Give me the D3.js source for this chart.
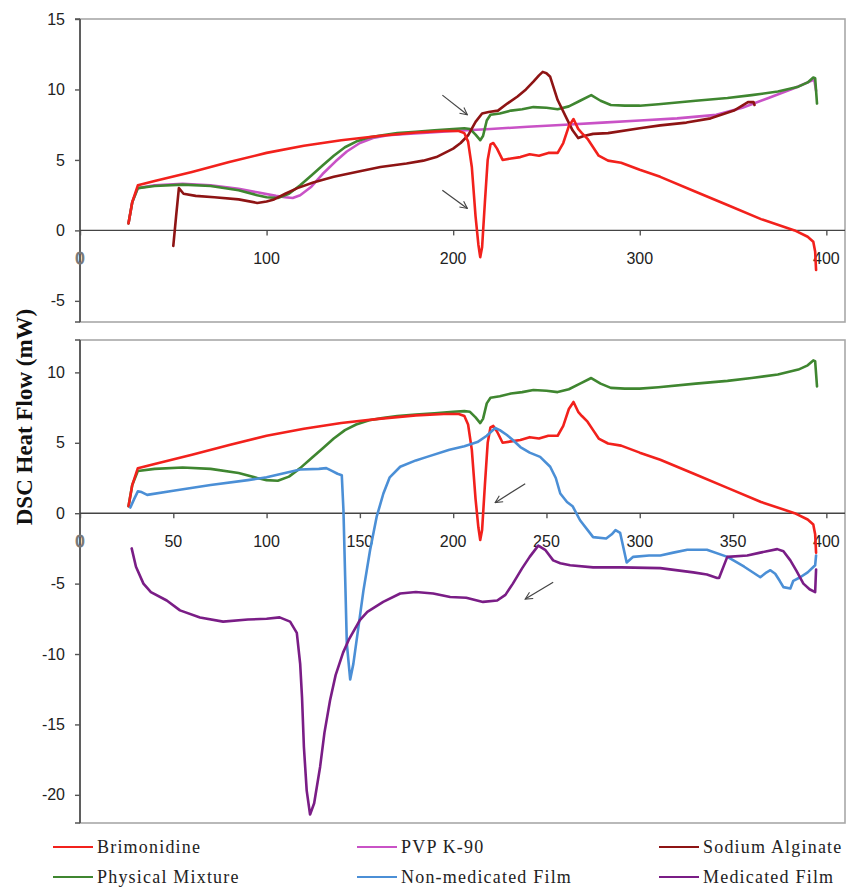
<!DOCTYPE html>
<html>
<head>
<meta charset="utf-8">
<script src="https://cdn.jsdelivr.net/npm/d3@7/dist/d3.min.js"></script>
<style>
  html, body { margin: 0; padding: 0; background: #fff; }
  svg { display: block; }
</style>
</head>
<body>
<svg id="chart" width="850" height="887"></svg>
<script>
// DSC thermograms: temperature (°C) vs heat flow (mW), as [T, HF] pairs.
const brimonidine = [[26,0.5],[28,2.0],[31,3.2],[40,3.5],[60,4.15],[80,4.85],[100,5.5],[120,6.0],[140,6.4],[160,6.7],[180,6.95],[195,7.05],[203,7.05],[206,6.9],[208,6.3],[210,4.5],[212,1.0],[213.5,-1.0],[214.5,-1.9],[215.5,-1.2],[217,2.0],[218.5,5.0],[220,6.1],[221.5,6.2],[223.5,5.8],[226.5,5.0],[231,5.1],[236,5.2],[241,5.4],[246,5.3],[251,5.5],[256,5.5],[259,6.2],[262,7.4],[264.5,7.9],[267,7.2],[269,6.9],[272,6.5],[275,5.9],[278,5.3],[283,4.95],[290,4.8],[300,4.3],[311,3.8],[329,2.8],[347,1.8],[365,0.8],[383,0.0],[390,-0.45],[393,-0.8],[394,-1.5],[394.5,-2.8]];

const pvpK90 = [[26,0.5],[28,2.0],[31,3.0],[40,3.2],[55,3.3],[70,3.2],[85,2.95],[95,2.7],[105,2.45],[110,2.35],[114,2.3],[118,2.5],[124,3.1],[130,4.0],[137,4.9],[143,5.6],[150,6.2],[157,6.55],[165,6.75],[175,6.85],[188,6.95],[200,7.05],[220,7.2],[240,7.35],[260,7.5],[280,7.65],[300,7.8],[320,7.95],[341,8.2],[355,8.7],[369,9.4],[383,10.1],[393.5,10.7],[394.5,9.9]];

const sodiumAlginate = [[50,-1.1],[51.5,1.0],[53,3.0],[55.5,2.6],[62,2.45],[72,2.35],[85,2.2],[95,1.95],[100,2.05],[104,2.2],[110,2.6],[116.5,3.0],[125,3.4],[136,3.8],[150,4.2],[161,4.5],[175,4.75],[184,4.95],[191,5.2],[200,5.8],[204,6.2],[208,6.75],[212,7.7],[215.5,8.3],[219,8.4],[224,8.5],[229,9.0],[234.5,9.5],[239,10.0],[243,10.55],[246,11.0],[248,11.25],[250,11.15],[252,10.9],[256,9.25],[261,7.9],[264,7.1],[267,6.55],[270,6.7],[275,6.85],[283,6.9],[300,7.25],[311,7.45],[325,7.65],[338,7.95],[350.5,8.5],[358,9.1],[361,9.1],[361.5,8.9]];

const physicalMixture = [[26,0.5],[28,2.0],[31,3.0],[40,3.15],[55,3.25],[70,3.15],[85,2.85],[95,2.5],[100,2.35],[106,2.3],[112,2.6],[118,3.2],[124,3.9],[130,4.6],[136,5.3],[142,5.9],[148,6.3],[155,6.6],[162,6.75],[170,6.9],[180,7.0],[190,7.1],[200,7.2],[206,7.25],[209,7.2],[212,6.8],[214.5,6.4],[216,6.7],[218,7.8],[220,8.2],[225,8.3],[231,8.5],[237,8.6],[243,8.75],[250,8.7],[256,8.6],[262,8.8],[268,9.2],[274,9.6],[279,9.2],[284.5,8.9],[292,8.85],[300,8.85],[310,8.95],[330,9.2],[347,9.4],[360,9.6],[374,9.85],[385,10.2],[390,10.5],[393,10.85],[394,10.8],[395,9.0]];

const nonMedicatedFilm = [[27,0.4],[29,1.0],[31,1.55],[33,1.5],[36,1.3],[50,1.6],[70,2.0],[90,2.35],[100,2.55],[118,3.1],[128,3.15],[132,3.2],[135,3.0],[138,2.8],[140.3,2.7],[141.2,0.2],[142.1,-4.5],[143,-9.25],[144.8,-11.8],[146.5,-10.7],[149,-8.3],[151.9,-5.5],[155.5,-2.6],[159,-0.25],[162.6,1.4],[166,2.55],[171.6,3.3],[180,3.75],[186,4.0],[198,4.5],[206,4.75],[213,5.05],[218,5.5],[222.5,6.05],[225,5.9],[228.8,5.55],[232,5.2],[236,4.7],[241,4.3],[246.6,4.0],[252,3.3],[255,2.5],[257.4,1.4],[261,0.8],[264,0.5],[268,-0.5],[275,-1.7],[282,-1.8],[285,-1.5],[287,-1.2],[289.5,-1.4],[293,-3.5],[296.5,-3.1],[305,-3.0],[311,-3.0],[318,-2.8],[325.5,-2.6],[336,-2.6],[347,-3.1],[356,-3.8],[364.6,-4.55],[368,-4.2],[370,-4.05],[372.6,-4.3],[375,-4.8],[377,-5.25],[380.7,-5.35],[382.3,-4.8],[386,-4.55],[390,-4.2],[394,-3.7],[394.5,-3.0]];

const medicatedFilm = [[27.7,-2.5],[30,-3.8],[34,-5.0],[38,-5.6],[46.5,-6.2],[53.6,-6.9],[64.3,-7.4],[76.7,-7.7],[90,-7.55],[100,-7.5],[107,-7.4],[112.6,-7.7],[116.2,-8.5],[118,-10.7],[119,-13.1],[120,-16.6],[121.5,-19.7],[123.3,-21.4],[125.5,-20.6],[128.7,-18.0],[131,-15.6],[134,-13.3],[137,-11.5],[141,-9.9],[144,-9.0],[150,-7.6],[154,-7.0],[162.5,-6.3],[171.6,-5.7],[180,-5.6],[189.3,-5.7],[198.4,-5.95],[207,-6.0],[216,-6.3],[223.6,-6.2],[228,-5.8],[232,-5.0],[237,-3.9],[241,-3.1],[245.6,-2.3],[249.3,-2.6],[253.6,-3.35],[257.4,-3.55],[262.7,-3.7],[275,-3.85],[290,-3.85],[311,-3.9],[328.7,-4.2],[336,-4.35],[341.5,-4.6],[342.5,-4.6],[346.9,-3.1],[357.6,-3.0],[364.6,-2.8],[373.7,-2.55],[377,-2.7],[380.7,-3.35],[384,-4.1],[387.7,-5.0],[391,-5.4],[394,-5.6],[394.5,-4.0]];

// Axis ticks
const topXTicks = [0, 100, 200, 300, 400];
const topYTicks = [-5, 0, 5, 10, 15];
const bottomXTicks = [0, 50, 100, 150, 200, 250, 300, 350, 400];
const bottomYTicks = [-20, -15, -10, -5, 0, 5, 10];

// Annotation arrows (tail -> head) in data units
const topArrows = [[[194.2, 9.6], [207.6, 8.2]], [[194.2, 2.85], [207.6, 1.56]]];
const bottomArrows = [[[238.6, 2.1], [222.5, 0.75]], [[253.6, -4.9], [238.6, -6.1]]];

// Legend entries
const legendNames = ["Brimonidine", "PVP K-90", "Sodium Alginate", "Physical Mixture", "Non-medicated Film", "Medicated Film"];
const colors = {
  "Brimonidine": "#f2211c",
  "PVP K-90": "#c952c6",
  "Sodium Alginate": "#8e1414",
  "Physical Mixture": "#3f8630",
  "Non-medicated Film": "#4b8fd6",
  "Medicated Film": "#7a1d86"
};

// plain hyphen for negative numbers
const numFmt = d => String(d);

const svg = d3.select("#chart");
const defs = svg.append("defs");
defs.append("marker")
  .attr("id", "arrowHead")
  .attr("viewBox", "0 0 10 10")
  .attr("refX", 9).attr("refY", 5)
  .attr("markerWidth", 9).attr("markerHeight", 9)
  .attr("markerUnits", "userSpaceOnUse")
  .attr("orient", "auto")
  .append("path")
  .attr("d", "M1,1 L9,5 L1,9")
  .attr("fill", "none")
  .attr("stroke", "#444")
  .attr("stroke-width", 1.2);

const left = 80, right = 845;

function panel(cfg) {
  const x = d3.scaleLinear().domain([0, 410]).range([left, right]);
  const y = d3.scaleLinear().domain(cfg.yDomain).range([cfg.bottom, cfg.top]);
  const g = svg.append("g");

  // plot frame
  g.append("rect")
    .attr("x", left).attr("y", cfg.top)
    .attr("width", right - left).attr("height", cfg.bottom - cfg.top)
    .attr("fill", "none").attr("stroke", "#a8a8a8").attr("stroke-width", 1.6);
  g.append("line").attr("x1", left - 5).attr("x2", left)
    .attr("y1", cfg.top).attr("y2", cfg.top).attr("stroke", "#555").attr("stroke-width", 1.5);
  g.append("line").attr("x1", left - 5).attr("x2", left)
    .attr("y1", cfg.bottom).attr("y2", cfg.bottom).attr("stroke", "#555").attr("stroke-width", 1.5);

  // y axis
  const yAxis = d3.axisLeft(y).tickValues(cfg.yTicks).tickSize(5).tickPadding(10).tickFormat(numFmt);
  const ya = g.append("g").attr("transform", `translate(${left},0)`).call(yAxis);
  ya.select(".domain").remove();
  g.append("line").attr("x1", left).attr("x2", left)
    .attr("y1", cfg.top).attr("y2", cfg.bottom).attr("stroke", "#555").attr("stroke-width", 1.8);

  // x axis along zero
  const xAxis = d3.axisBottom(x).tickValues(cfg.xTicks).tickSize(5).tickPadding(0).tickFormat(d => "");
  const xa = g.append("g").attr("transform", `translate(0,${y(0)})`).call(xAxis);
  xa.select(".domain").remove();
  g.append("line").attr("x1", left).attr("x2", right)
    .attr("y1", y(0)).attr("y2", y(0)).attr("stroke", "#444").attr("stroke-width", 1.4);
  g.selectAll(".xlab").data(cfg.xTicks).join("text")
    .attr("class", "xlab")
    .attr("x", d => x(d)).attr("y", y(0) + 34)
    .attr("text-anchor", "middle")
    .attr("font-family", "'Liberation Sans', Arial, sans-serif")
    .attr("font-size", 16)
    .attr("fill", d => d === 0 ? "#777" : "#222")
    .attr("stroke", d => d === 0 ? "#777" : "none")
    .attr("stroke-width", 1)
    .text(numFmt);

  [ya, xa].forEach(a => {
    a.selectAll(".tick line").attr("stroke", "#555").attr("stroke-width", 1.4);
    a.selectAll(".tick text")
      .attr("font-family", "'Liberation Sans', Arial, sans-serif")
      .attr("font-size", 16).attr("fill", "#222");
  });

  const line = d3.line().x(d => x(d[0])).y(d => y(d[1]));
  g.selectAll(".series").data(cfg.series).join("path")
    .attr("class", "series")
    .attr("d", s => line(s.values))
    .attr("fill", "none")
    .attr("stroke", s => colors[s.name])
    .attr("stroke-width", 2.6)
    .attr("stroke-linejoin", "round")
    .attr("stroke-linecap", "round");

  g.selectAll(".arrow").data(cfg.arrows).join("line")
    .attr("class", "arrow")
    .attr("x1", a => x(a[0][0])).attr("y1", a => y(a[0][1]))
    .attr("x2", a => x(a[1][0])).attr("y2", a => y(a[1][1]))
    .attr("stroke", "#444").attr("stroke-width", 1.2)
    .attr("marker-end", "url(#arrowHead)");
}

panel({
  top: 19, bottom: 322, yDomain: [-6.5, 15],
  xTicks: topXTicks, yTicks: topYTicks,
  series: [
    { name: "PVP K-90", values: pvpK90 },
    { name: "Physical Mixture", values: physicalMixture },
    { name: "Sodium Alginate", values: sodiumAlginate },
    { name: "Brimonidine", values: brimonidine }
  ],
  arrows: topArrows
});

panel({
  top: 340, bottom: 823, yDomain: [-22, 12.3],
  xTicks: bottomXTicks, yTicks: bottomYTicks,
  series: [
    { name: "Physical Mixture", values: physicalMixture },
    { name: "Brimonidine", values: brimonidine },
    { name: "Non-medicated Film", values: nonMedicatedFilm },
    { name: "Medicated Film", values: medicatedFilm }
  ],
  arrows: bottomArrows
});

// Shared y-axis title
svg.append("text")
  .attr("transform", "translate(32,417) rotate(-90)")
  .attr("text-anchor", "middle")
  .attr("font-family", "'Liberation Serif', 'Times New Roman', serif")
  .attr("font-weight", "bold")
  .attr("font-size", 23)
  .attr("fill", "#111")
  .text("DSC Heat Flow (mW)");

// Legend: three columns, two rows
const colX = [53, 357, 659];
const rowY = [847, 877];
const leg = svg.append("g").selectAll("g").data(legendNames).join("g")
  .attr("transform", (d, i) => `translate(${colX[i % 3]},${rowY[Math.floor(i / 3)]})`);
leg.append("line")
  .attr("x1", 0).attr("x2", 40).attr("y1", 0).attr("y2", 0)
  .attr("stroke", d => colors[d]).attr("stroke-width", 2.2);
leg.append("text")
  .attr("x", 44).attr("y", 6)
  .attr("font-family", "'Liberation Serif', 'Times New Roman', serif")
  .attr("font-size", 18)
  .attr("letter-spacing", 1.2)
  .attr("fill", "#222")
  .text(d => d);
</script>
</body>
</html>
